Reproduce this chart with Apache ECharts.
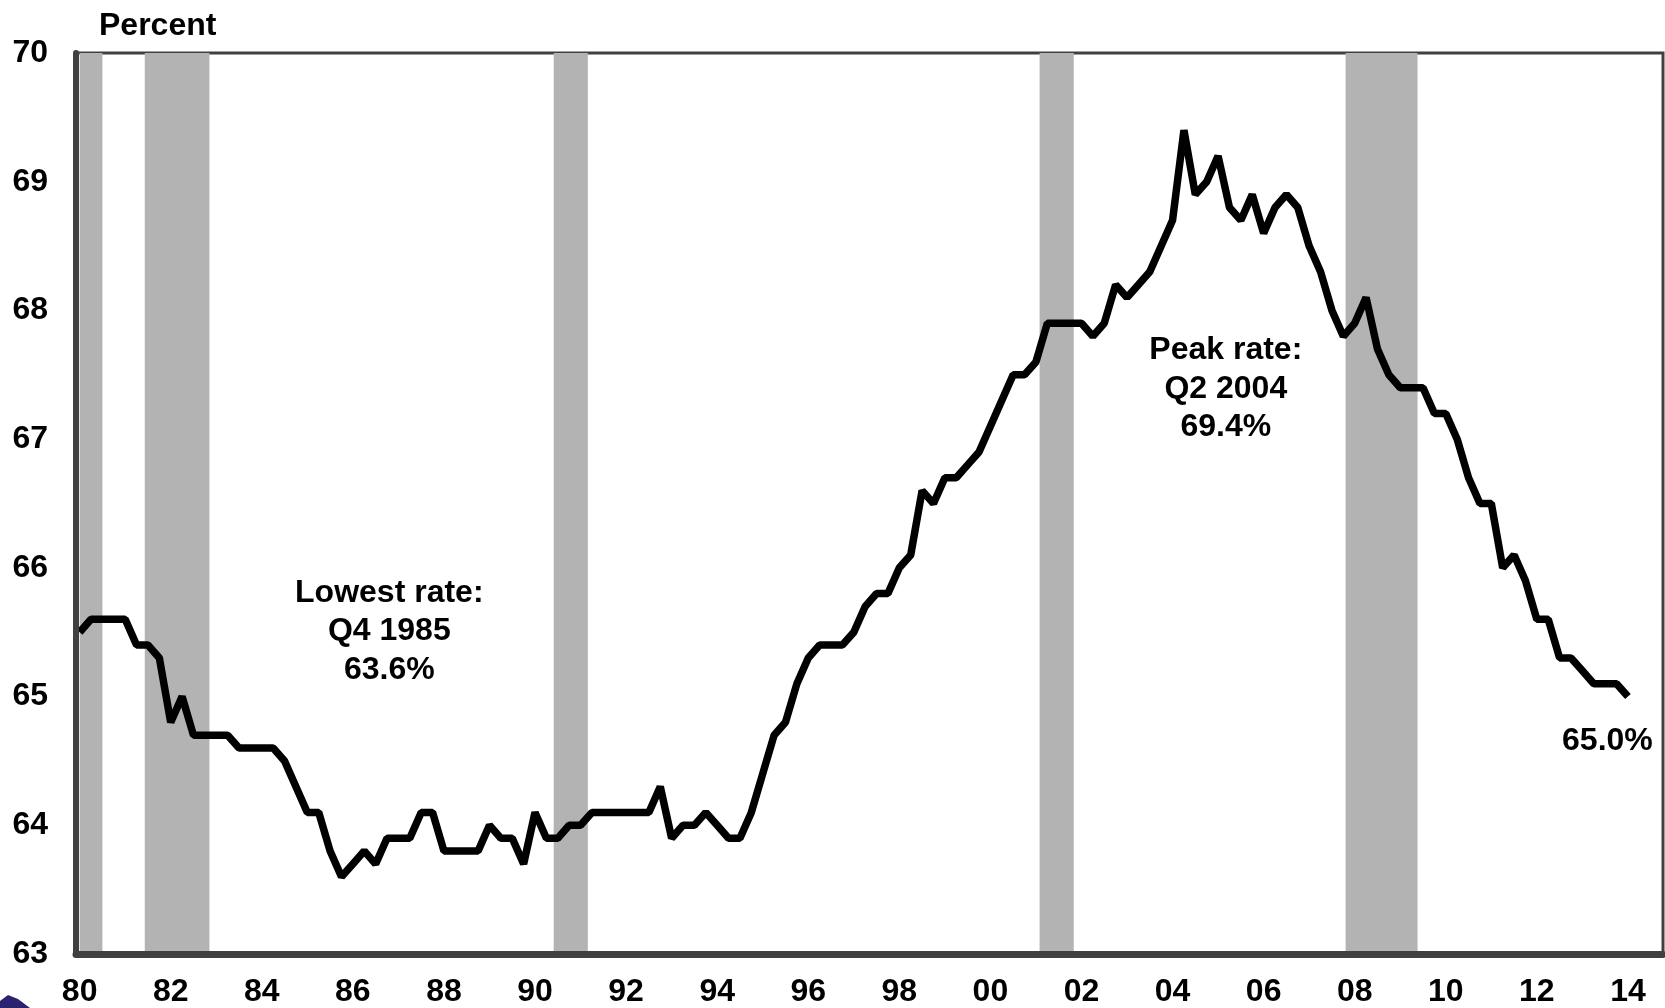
<!DOCTYPE html>
<html>
<head>
<meta charset="utf-8">
<title>Homeownership rate</title>
<script src="https://cdn.jsdelivr.net/npm/echarts@6/dist/echarts.min.js"></script>
<style>
    html, body { margin: 0; padding: 0; background: #fff; }
    #container { width: 1665px; height: 1008px; }
</style>
</head>
<body>
<div id="container"></div>
<script>
// quarterly rate, 1980 Q1 .. 2014 Q1
var startYear = 1980;
var rates = [
    65.5, 65.6, 65.6, 65.6,   // 1980
    65.6, 65.4, 65.4, 65.3,   // 1981
    64.8, 65.0, 64.7, 64.7,   // 1982
    64.7, 64.7, 64.6, 64.6,   // 1983
    64.6, 64.6, 64.5, 64.3,   // 1984
    64.1, 64.1, 63.8, 63.6,   // 1985
    63.7, 63.8, 63.7, 63.9,   // 1986
    63.9, 63.9, 64.1, 64.1,   // 1987
    63.8, 63.8, 63.8, 63.8,   // 1988
    64.0, 63.9, 63.9, 63.7,   // 1989
    64.1, 63.9, 63.9, 64.0,   // 1990
    64.0, 64.1, 64.1, 64.1,   // 1991
    64.1, 64.1, 64.1, 64.3,   // 1992
    63.9, 64.0, 64.0, 64.1,   // 1993
    64.0, 63.9, 63.9, 64.1,   // 1994
    64.4, 64.7, 64.8, 65.1,   // 1995
    65.3, 65.4, 65.4, 65.4,   // 1996
    65.5, 65.7, 65.8, 65.8,   // 1997
    66.0, 66.1, 66.6, 66.5,   // 1998
    66.7, 66.7, 66.8, 66.9,   // 1999
    67.1, 67.3, 67.5, 67.5,   // 2000
    67.6, 67.9, 67.9, 67.9,   // 2001
    67.9, 67.8, 67.9, 68.2,   // 2002
    68.1, 68.2, 68.3, 68.5,   // 2003
    68.7, 69.4, 68.9, 69.0,   // 2004
    69.2, 68.8, 68.7, 68.9,   // 2005
    68.6, 68.8, 68.9, 68.8,   // 2006
    68.5, 68.3, 68.0, 67.8,   // 2007
    67.9, 68.1, 67.7, 67.5,   // 2008
    67.4, 67.4, 67.4, 67.2,   // 2009
    67.2, 67.0, 66.7, 66.5,   // 2010
    66.5, 66.0, 66.1, 65.9,   // 2011
    65.6, 65.6, 65.3, 65.3,   // 2012
    65.2, 65.1, 65.1, 65.1,   // 2013
    65.0                      // 2014
];

// recessions (shaded), in decimal years
var recessionStart = [1980.0, 1981.43, 1990.41, 2001.08, 2007.8];
var recessionEnd   = [1980.5, 1982.85, 1991.16, 2001.83, 2009.38];

var yearTicks = [1980, 1982, 1984, 1986, 1988, 1990, 1992, 1994, 1996,
                 1998, 2000, 2002, 2004, 2006, 2008, 2010, 2012, 2014];

var notes = ['Lowest rate:\nQ4 1985\n63.6%', 'Peak rate:\nQ2 2004\n69.4%', '65.0%'];

var FONT = "'Liberation Sans', Arial, sans-serif";

var dom = document.getElementById("container");
var myChart = echarts.init(dom);

function buildPoints() {
    var pts = [];
    for (var i = 0; i < rates.length; i++) {
        pts.push([startYear + i * 0.25, rates[i]]);
    }
    return pts;
}

function buildBands() {
    var bands = [];
    for (var i = 0; i < recessionStart.length; i++) {
        bands.push([{ xAxis: recessionStart[i] }, { xAxis: recessionEnd[i] }]);
    }
    return bands;
}

function noteLabel(text) {
    return {
        show: true,
        position: 'inside',
        formatter: text,
        color: '#000',
        fontFamily: FONT,
        fontSize: 32,
        fontWeight: 'bold',
        lineHeight: 38.5,
        align: 'center'
    };
}

var option = {
    animation: false,
    backgroundColor: '#fff',
    title: {
        text: 'Percent',
        left: 99,
        top: 10,
        padding: 0,
        textStyle: {
            fontFamily: FONT,
            fontSize: 32,
            fontWeight: 'bold',
            color: '#000',
            lineHeight: 32
        }
    },
    grid: {
        left: 76,
        right: 2,
        top: 53,
        bottom: 52,
        show: true,
        backgroundColor: '#fff',
        borderColor: '#404040',
        borderWidth: 3
    },
    xAxis: {
        type: 'value',
        min: 1979.92,
        max: 2014.77,
        z: 5,
        axisLine: {
            show: true,
            onZero: false,
            lineStyle: { color: '#404040', width: 7 }
        },
        axisTick: { show: false },
        splitLine: { show: false },
        axisLabel: {
            customValues: yearTicks,
            formatter: function (v) {
                return String(v).slice(2);
            },
            fontFamily: FONT,
            fontSize: 32,
            fontWeight: 'bold',
            lineHeight: 32,
            color: '#000',
            margin: 22
        }
    },
    yAxis: {
        type: 'value',
        min: 63,
        max: 70,
        interval: 1,
        z: 5,
        axisLine: {
            show: true,
            lineStyle: { color: '#404040', width: 6 }
        },
        axisTick: { show: false },
        splitLine: { show: false },
        axisLabel: {
            fontFamily: FONT,
            fontSize: 32,
            fontWeight: 'bold',
            color: '#000',
            margin: 28
        }
    },
    series: [
        {
            type: 'line',
            data: buildPoints(),
            symbol: 'none',
            lineStyle: { color: '#000', width: 7.5 },
            markArea: {
                silent: true,
                itemStyle: { color: '#b3b3b3', opacity: 1 },
                data: buildBands()
            },
            markPoint: {
                silent: true,
                symbol: 'rect',
                symbolSize: 1,
                itemStyle: { color: 'rgba(0,0,0,0)' },
                data: [
                    { coord: [1986.8, 65.505], label: noteLabel(notes[0]) },
                    { coord: [2005.17, 67.39], label: noteLabel(notes[1]) },
                    { coord: [2013.55, 64.655], label: noteLabel(notes[2]) }
                ]
            }
        }
    ],
    graphic: [
        {
            // corner of a logo, cut off at the bottom left
            type: 'polygon',
            shape: { points: [[0, 1008], [0, 1001], [8, 995], [18, 999], [30, 1008]] },
            style: { fill: '#2b2270' }
        }
    ]
};

myChart.setOption(option, true);
</script>
</body>
</html>
